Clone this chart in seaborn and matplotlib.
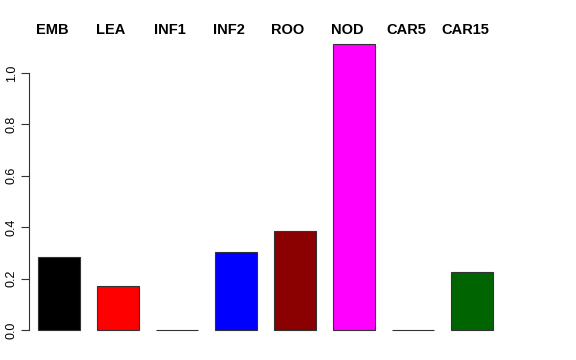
import seaborn as sns
import pandas as pd
import matplotlib.pyplot as plt

categories = ["EMB", "LEA", "INF1", "INF2", "ROO", "NOD", "CAR5", "CAR15"]
values = [0.283, 0.171, 0.0, 0.302, 0.384, 1.112, 0.0, 0.225]
bar_colors = ["#000000", "#FF0000", "#FFFFFF", "#0000FF", "#8B0000", "#FF00FF", "#FFFFFF", "#006400"]

sns.set_style("white")
plt.rcParams["font.family"] = ["Liberation Sans", "DejaVu Sans"]
plt.rcParams["text.color"] = "black"
plt.rcParams["ytick.color"] = "black"

df = pd.DataFrame({"tissue": categories, "value": values})

fig = plt.figure(figsize=(5.76, 3.6), dpi=100)
# axes placed in pixels: left 29, right 560, bottom 340, top 20
ax = fig.add_axes([29 / 576, 20 / 360, (560 - 29) / 576, (340 - 20) / 360])
sns.barplot(data=df, x="tissue", y="value", hue="tissue", palette=bar_colors,
            saturation=1, legend=False, width=0.712, edgecolor="#333333",
            linewidth=0.8, ax=ax)

ax.set_xlim(-0.508, 8.49)
ax.set_ylim(-0.039, 1.206)
ax.set_xlabel("")
ax.set_ylabel("")
ax.set_xticks([])
ax.set_yticks([0.0, 0.2, 0.4, 0.6, 0.8, 1.0])
ax.set_yticklabels(["0.0", "0.2", "0.4", "0.6", "0.8", "1.0"], rotation=90, va="center")
ax.tick_params(axis="y", left=True, length=6, width=0.8, labelsize=9, pad=2,
               color="#333333", labelcolor="black")

for side in ["top", "right", "bottom"]:
    ax.spines[side].set_visible(False)
ax.spines["left"].set_bounds(0, 1.0)
ax.spines["left"].set_color("#333333")
ax.spines["left"].set_linewidth(0.8)

for i, name in enumerate(categories):
    ax.text(i - 0.12, 1.167, name, ha="center", va="center",
            fontsize=10.5, fontweight="bold", color="black")

fig.savefig("out.png", dpi=100)
